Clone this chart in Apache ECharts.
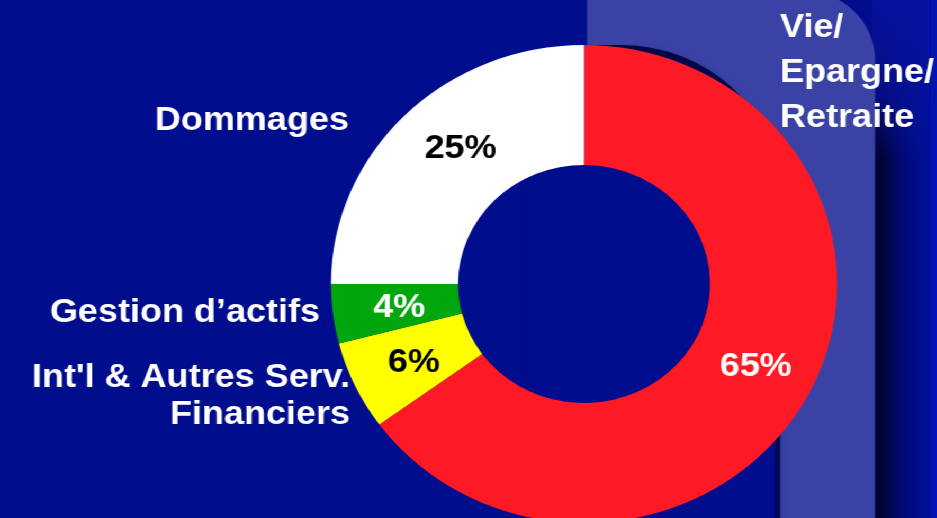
<!DOCTYPE html>
<html>
<head>
<meta charset="utf-8">
<script src="https://cdn.jsdelivr.net/npm/echarts@6/dist/echarts.min.js"></script>
<style>
  html, body { margin: 0; padding: 0; width: 937px; height: 518px; overflow: hidden; background: #000d8c; }
  #chart { width: 885px; height: 518px; transform: scaleX(1.0588); transform-origin: 0 0; background: #000d8c; }
</style>
</head>
<body>
<div id="chart"></div>
<script>
// ---- data ----
const categories = ['Vie/\nEpargne/\nRetraite', "Int'l & Autres Serv.\nFinanciers", 'Gestion d\u2019actifs', 'Dommages'];
const shares = [65, 6, 4, 25];
const valueLabels = ['65%', '6%', '4%', '25%'];

// ---- styles ----
const sliceColors = ['#fe1a25', '#ffff00', '#00a70c', '#ffffff'];
const labelColors = ['#ffffff', '#000000', '#ffffff', '#000000'];
const labelShift = [[0, 0], [4, 1], [6, 1], [12, -7]];
const FONT = 'Liberation Sans, Arial, Helvetica, sans-serif';
const navy = '#000d8c';

const chart = echarts.init(document.getElementById('chart'), null, { renderer: 'canvas' });

// outside category names: [index, x, y, align, verticalAlign, lineHeight]
const nameLayout = [
  [0, 736.7, 5.5, 'left', 'top', 45],
  [1, 330.6, 359.5, 'right', 'top', 37],
  [2, 302.2, 313, 'right', 'middle', 37],
  [3, 329.6, 121, 'right', 'middle', 37]
];

const nameTexts = nameLayout.map(([i, x, y, al, va, lh]) => ({
  type: 'text', z: 100, silent: true,
  x: x, y: y,
  style: {
    text: categories[i], fill: '#ffffff',
    font: 'bold 34px ' + FONT,
    fontSize: 34, fontWeight: 'bold', fontFamily: FONT,
    textAlign: al, align: al, textVerticalAlign: va, verticalAlign: va,
    lineHeight: lh
  }
}));

const decor = [
  // dark strip on the far right
  { type: 'rect', z: -30, silent: true,
    shape: { x: 824, y: 0, width: 62, height: 518 },
    style: { fill: new echarts.graphic.LinearGradient(0, 0, 1, 0, [
      { offset: 0, color: '#00043a' },
      { offset: 0.12, color: '#000532' },
      { offset: 0.45, color: '#000a74' },
      { offset: 0.75, color: '#000f92' },
      { offset: 0.885, color: '#000f94' },
      { offset: 0.89, color: '#0015b2' },
      { offset: 1, color: '#0016b6' }
    ]) } },
  // softer top part of the right strip
  { type: 'rect', z: -29, silent: true,
    shape: { x: 824, y: 0, width: 54, height: 160 },
    style: { fill: new echarts.graphic.LinearGradient(0, 0, 0, 1, [
      { offset: 0, color: 'rgba(8,18,160,1)' },
      { offset: 0.6, color: 'rgba(8,18,160,0.7)' },
      { offset: 1, color: 'rgba(8,18,160,0)' }
    ]) } },
  // light band
  { type: 'rect', z: -20, silent: true,
    shape: { x: 554.4, y: -10, width: 272, height: 540, r: [0, 70, 0, 0] },
    style: { fill: '#3a43a5' } },
  // hole (dark edge)
  { type: 'rect', z: -15, silent: true,
    shape: { x: 554.4, y: 45, width: 182.3, height: 600, r: [0, 150, 0, 0] },
    style: { fill: '#000430' } },
  // hole inner fill
  { type: 'rect', z: -14, silent: true,
    shape: { x: 500, y: 53, width: 231.7, height: 600, r: [0, 142, 0, 0] },
    style: { fill: navy, shadowBlur: 12, shadowColor: navy } }
];

chart.setOption({
  backgroundColor: 'transparent',
  animation: false,
  graphic: { elements: decor.concat(nameTexts) },
  series: [{
    type: 'pie',
    z: 10,
    silent: true,
    center: [551.6, 284],
    radius: [119, 239],
    startAngle: 90,
    clockwise: true,
    avoidLabelOverlap: false,
    labelLine: { show: false },
    emphasis: { disabled: true },
    itemStyle: { borderWidth: 0 },
    label: {
      show: true, position: 'inside',
      fontFamily: FONT, fontWeight: 'bold', fontSize: 34
    },
    labelLayout: function (params) {
      const s = labelShift[params.dataIndex] || [0, 0];
      return { dx: s[0], dy: s[1] };
    },
    data: shares.map((v, i) => ({
      value: v,
      name: categories[i],
      itemStyle: { color: sliceColors[i] },
      label: { formatter: valueLabels[i], color: labelColors[i] }
    }))
  }]
});
</script>
</body>
</html>
